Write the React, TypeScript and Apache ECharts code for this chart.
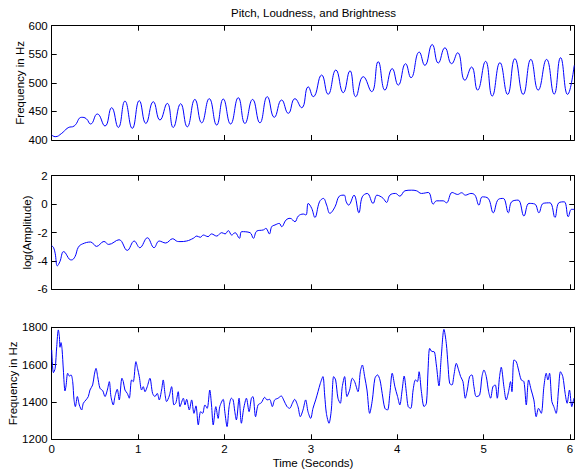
import React, { useEffect, useRef } from "react";
import * as echarts from "echarts";

const TITLE = "Pitch, Loudness, and Brightness";
const X_NAME = "Time (Seconds)";
const Y_NAMES = ["Frequency in Hz", "log(Amplitude)", "Frequency in Hz"];

// Panel 1: pitch (Hz)
const pitchT = [0, 0.04, 0.116, 0.19, 0.26, 0.347, 0.4, 0.45, 0.528, 0.617, 0.694, 0.771, 0.848, 0.933, 1.014, 1.09, 1.176, 1.253, 1.338, 1.407, 1.493, 1.569, 1.658, 1.736, 1.824, 1.91, 1.986, 2.071, 2.16, 2.237, 2.326, 2.41, 2.496, 2.577, 2.662, 2.739, 2.816, 2.894, 2.97, 3.028, 3.125, 3.2, 3.29, 3.375, 3.453, 3.52, 3.607, 3.704, 3.78, 3.858, 3.942, 4.012, 4.097, 4.159, 4.255, 4.32, 4.405, 4.475, 4.552, 4.63, 4.699, 4.784, 4.861, 4.93, 5.023, 5.1, 5.189, 5.278, 5.362, 5.458, 5.547, 5.632, 5.729, 5.817, 5.891, 5.972, 6.049];
const pitchHz = [408.7, 405.8, 411.7, 421.5, 424.5, 439.7, 437.3, 428, 445.5, 424.5, 456.5, 422, 468, 420.4, 468.8, 429, 467, 435, 464, 422, 463.5, 423, 471, 430, 472.3, 426.2, 471.7, 428, 474, 429, 471, 430, 475.8, 439.7, 470, 446.7, 472.3, 456.5, 493, 475.8, 513.7, 480, 522.5, 482.8, 521, 475.8, 510.8, 484.6, 537, 487.3, 524.9, 496, 533.5, 509, 553.8, 530.6, 567, 534.7, 561.3, 533.5, 552.6, 504.6, 527.7, 487.3, 537.6, 476.9, 535.3, 479.8, 542.2, 479.8, 541, 487.3, 541, 480.3, 544, 479.8, 530.6];

// Panel 2: loudness (log amplitude)
const loudT = [0, 0.02, 0.04, 0.065, 0.095, 0.135, 0.154, 0.204, 0.23, 0.27, 0.308, 0.358, 0.45, 0.52, 0.605, 0.66, 0.78, 0.875, 0.955, 1.02, 1.108, 1.185, 1.244, 1.32, 1.4, 1.457, 1.485, 1.562, 1.639, 1.68, 1.72, 1.755, 1.81, 1.85, 1.91, 1.968, 2.007, 2.045, 2.084, 2.123, 2.173, 2.2, 2.296, 2.335, 2.374, 2.45, 2.48, 2.52, 2.547, 2.585, 2.635, 2.662, 2.713, 2.76, 2.816, 2.855, 2.913, 2.944, 2.97, 3.01, 3.047, 3.1, 3.145, 3.183, 3.22, 3.28, 3.33, 3.385, 3.41, 3.437, 3.5, 3.556, 3.595, 3.653, 3.72, 3.765, 3.8, 3.838, 3.877, 3.915, 3.98, 4.03, 4.09, 4.165, 4.223, 4.28, 4.36, 4.417, 4.455, 4.533, 4.57, 4.636, 4.7, 4.745, 4.79, 4.853, 4.9, 4.946, 4.985, 5.054, 5.112, 5.17, 5.228, 5.286, 5.324, 5.4, 5.467, 5.525, 5.594, 5.64, 5.69, 5.768, 5.826, 5.87, 5.934, 5.98, 6.017, 6.05];
const loudLog = [-2.95, -3.04, -3.46, -4.35, -4.05, -3.35, -3.4, -3.88, -3.93, -3.7, -3.04, -2.8, -2.67, -2.98, -2.63, -2.84, -2.51, -3.26, -2.6, -3.07, -2.37, -3.07, -2.6, -2.74, -2.44, -2.63, -2.64, -2.6, -2.41, -2.25, -2.34, -2.18, -2.29, -2.1, -2.25, -2.01, -2.1, -1.87, -2.18, -2.01, -2.41, -1.94, -2.01, -2.41, -1.9, -1.82, -1.71, -2.1, -1.59, -1.47, -1.36, -1.59, -1.12, -1.0, -1.24, -0.84, -0.7, -0.77, 0.05, -0.3, -0.94, 0.16, 0.4, -0.07, -0.65, -0.19, 0.56, 0.63, 0.16, -0.07, 0.63, -0.61, 0.51, 0.75, 0.05, 0.63, 0.56, 0.4, 0.12, 0.63, 0.75, 0.56, 0.94, 0.98, 0.94, 0.75, 0.82, 0.0, 0.23, 0.23, 0.09, 0.82, 0.68, 0.8, 0.63, 0.75, 0.63, -0.07, 0.51, 0.4, -0.61, 0.33, 0.4, -0.61, 0.16, 0.28, -0.84, 0.05, 0.0, -0.61, 0.05, 0.09, -0.94, 0.09, 0.16, -0.89, -0.37, -0.37];

// Panel 3: brightness (Hz)
const brightT = [0, 0.02, 0.04, 0.058, 0.077, 0.089, 0.096, 0.108, 0.12, 0.135, 0.154, 0.166, 0.185, 0.204, 0.224, 0.243, 0.258, 0.274, 0.297, 0.32, 0.347, 0.366, 0.397, 0.424, 0.443, 0.474, 0.493, 0.513, 0.532, 0.559, 0.59, 0.617, 0.644, 0.667, 0.686, 0.713, 0.732, 0.759, 0.782, 0.813, 0.829, 0.848, 0.875, 0.898, 0.925, 0.944, 0.975, 0.994, 1.014, 1.041, 1.06, 1.08, 1.106, 1.137, 1.168, 1.195, 1.222, 1.245, 1.272, 1.291, 1.311, 1.33, 1.361, 1.388, 1.415, 1.438, 1.465, 1.485, 1.524, 1.543, 1.562, 1.593, 1.62, 1.647, 1.67, 1.697, 1.724, 1.747, 1.774, 1.8, 1.83, 1.85, 1.87, 1.9, 1.927, 1.946, 1.985, 2.004, 2.03, 2.054, 2.08, 2.1, 2.12, 2.138, 2.169, 2.196, 2.223, 2.254, 2.285, 2.312, 2.33, 2.36, 2.389, 2.427, 2.466, 2.493, 2.523, 2.554, 2.581, 2.62, 2.658, 2.685, 2.724, 2.755, 2.786, 2.812, 2.851, 2.878, 2.909, 2.94, 2.967, 2.998, 3.025, 3.056, 3.083, 3.11, 3.14, 3.16, 3.18, 3.21, 3.237, 3.264, 3.287, 3.314, 3.341, 3.364, 3.391, 3.418, 3.449, 3.48, 3.507, 3.546, 3.573, 3.596, 3.623, 3.65, 3.681, 3.712, 3.742, 3.772, 3.8, 3.826, 3.857, 3.888, 3.915, 3.942, 3.973, 4.004, 4.03, 4.057, 4.08, 4.107, 4.127, 4.157, 4.184, 4.211, 4.234, 4.253, 4.28, 4.311, 4.338, 4.357, 4.376, 4.403, 4.426, 4.453, 4.483, 4.51, 4.541, 4.568, 4.588, 4.607, 4.634, 4.657, 4.684, 4.711, 4.734, 4.761, 4.788, 4.811, 4.838, 4.865, 4.888, 4.915, 4.954, 4.981, 5.004, 5.031, 5.058, 5.081, 5.108, 5.135, 5.158, 5.185, 5.204, 5.235, 5.262, 5.289, 5.312, 5.328, 5.351, 5.378, 5.405, 5.436, 5.467, 5.494, 5.521, 5.551, 5.582, 5.609, 5.636, 5.667, 5.698, 5.725, 5.744, 5.763, 5.79, 5.813, 5.84, 5.867, 5.89, 5.917, 5.944, 5.967, 5.994, 6.021, 6.044];
const brightHz = [1679, 1557, 1580, 1696, 1786, 1750, 1693, 1718, 1682, 1571, 1459, 1486, 1554, 1539, 1545, 1509, 1414, 1375, 1429, 1384, 1357, 1393, 1411, 1429, 1464, 1491, 1545, 1580, 1536, 1473, 1461, 1429, 1464, 1509, 1429, 1384, 1429, 1468, 1411, 1527, 1509, 1464, 1446, 1420, 1518, 1509, 1616, 1580, 1536, 1464, 1482, 1455, 1482, 1527, 1446, 1429, 1446, 1411, 1464, 1518, 1446, 1402, 1432, 1482, 1384, 1396, 1455, 1375, 1420, 1384, 1414, 1357, 1411, 1339, 1379, 1277, 1348, 1339, 1384, 1366, 1464, 1384, 1277, 1375, 1312, 1375, 1414, 1348, 1268, 1375, 1420, 1411, 1348, 1304, 1420, 1286, 1366, 1420, 1348, 1420, 1429, 1321, 1384, 1396, 1425, 1411, 1414, 1375, 1411, 1420, 1432, 1411, 1375, 1366, 1393, 1414, 1375, 1321, 1357, 1411, 1348, 1312, 1366, 1411, 1455, 1500, 1536, 1437, 1339, 1286, 1357, 1536, 1518, 1420, 1393, 1482, 1536, 1429, 1464, 1527, 1509, 1455, 1562, 1598, 1536, 1464, 1339, 1411, 1527, 1545, 1518, 1446, 1366, 1357, 1446, 1554, 1482, 1429, 1384, 1464, 1539, 1446, 1375, 1366, 1464, 1518, 1509, 1562, 1455, 1375, 1393, 1571, 1687, 1670, 1670, 1598, 1486, 1643, 1789, 1714, 1598, 1500, 1491, 1545, 1607, 1571, 1536, 1509, 1420, 1464, 1536, 1545, 1482, 1429, 1437, 1536, 1571, 1536, 1455, 1420, 1482, 1491, 1420, 1536, 1586, 1482, 1411, 1455, 1509, 1455, 1625, 1616, 1571, 1518, 1509, 1384, 1518, 1464, 1411, 1321, 1366, 1339, 1482, 1554, 1518, 1554, 1402, 1375, 1339, 1464, 1562, 1536, 1446, 1393, 1464, 1375, 1420];

const FONT = "'Liberation Sans', Arial, Helvetica, sans-serif";
const X_MAX = 6.05;

export default function App() {
  const ref = useRef<HTMLDivElement>(null);
  useEffect(() => {
    if (!ref.current) return;
    const chart = echarts.init(ref.current, undefined, { renderer: "svg" });
    const grids = [
      { left: 51.7, top: 25.7, width: 522.6, height: 114.3, outerBoundsMode: "none", containLabel: false },
      { left: 51.7, top: 175.7, width: 522.6, height: 113.6, outerBoundsMode: "none", containLabel: false },
      { left: 51.7, top: 327.3, width: 522.6, height: 112, outerBoundsMode: "none", containLabel: false },
    ];
    const yRanges = [
      { min: 400, max: 600, interval: 50 },
      { min: -6, max: 2, interval: 2 },
      { min: 1200, max: 1800, interval: 200 },
    ];
    const nameGaps = [26, 18.5, 33];
    const lineStyle = { color: "#000", width: 1 };
    const tick = { show: true, inside: true, length: 5, lineStyle: { color: "#000", width: 1 } };
    const labelStyle = { color: "#000", fontSize: 11.5, fontFamily: FONT };
    const fmt = (v: number) => String(v);
    const xAxes: any[] = [];
    const yAxes: any[] = [];
    grids.forEach((_, i) => {
      xAxes.push({
        type: "value", gridIndex: i, position: "bottom", min: 0, max: X_MAX, interval: 1,
        axisLine: { show: true, onZero: false, lineStyle },
        axisTick: tick, splitLine: { show: false },
        axisLabel: { show: i === 2, margin: 4, formatter: fmt, ...labelStyle, showMaxLabel: false },
        name: i === 2 ? X_NAME : "", nameLocation: "middle", nameGap: 18, nameMoveOverlap: false,
        nameTextStyle: labelStyle,
      });
      xAxes.push({
        type: "value", gridIndex: i, position: "top", min: 0, max: X_MAX, interval: 1,
        axisLine: { show: true, onZero: false, lineStyle },
        axisTick: tick, splitLine: { show: false }, axisLabel: { show: false },
      });
      yAxes.push({
        type: "value", gridIndex: i, position: "left", ...yRanges[i],
        axisLine: { show: true, onZero: false, lineStyle },
        axisTick: tick, splitLine: { show: false },
        axisLabel: { margin: 4, formatter: fmt, ...labelStyle },
        name: Y_NAMES[i], nameLocation: "middle", nameGap: nameGaps[i], nameMoveOverlap: false,
        nameTextStyle: labelStyle,
      });
      yAxes.push({
        type: "value", gridIndex: i, position: "right", ...yRanges[i],
        axisLine: { show: true, onZero: false, lineStyle },
        axisTick: tick, splitLine: { show: false }, axisLabel: { show: false },
      });
    });
    const mk = (t: number[], v: number[]) => t.map((x, i) => [x, v[i]]);
    const seriesStyle = { color: "#0000ff", width: 1 };
    chart.setOption({
      animation: false,
      backgroundColor: "#fff",
      title: {
        text: TITLE, left: 313.5, top: 7, textAlign: "center", padding: 0,
        textStyle: { color: "#000", fontSize: 11.5, fontWeight: "normal", fontFamily: FONT },
      },
      grid: grids,
      xAxis: xAxes,
      yAxis: yAxes,
      series: [
        { type: "line", xAxisIndex: 0, yAxisIndex: 0, data: mk(pitchT, pitchHz), showSymbol: false, smooth: 0.5, lineStyle: seriesStyle, itemStyle: { color: "#0000ff" } },
        { type: "line", xAxisIndex: 2, yAxisIndex: 2, data: mk(loudT, loudLog), showSymbol: false, smooth: 0.4, lineStyle: seriesStyle, itemStyle: { color: "#0000ff" } },
        { type: "line", xAxisIndex: 4, yAxisIndex: 4, data: mk(brightT, brightHz), showSymbol: false, smooth: 0.3, lineStyle: seriesStyle, itemStyle: { color: "#0000ff" } },
      ],
    });
    return () => chart.dispose();
  }, []);
  return (
    <div
      ref={ref}
      style={{ position: "absolute", left: 0, top: 0, width: 575, height: 469, background: "#fff" }}
    />
  );
}
